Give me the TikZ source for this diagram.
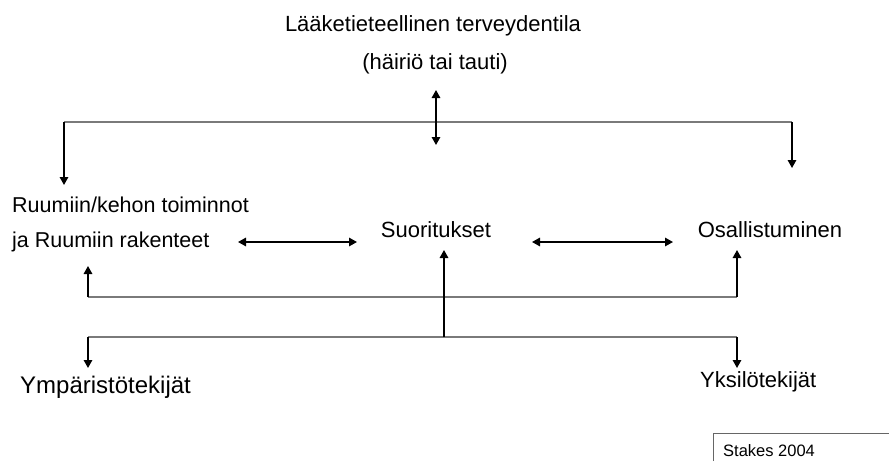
\documentclass[tikz,border=0pt]{standalone}
\usepackage{fontspec}
\setmainfont{Liberation Sans}
\usetikzlibrary{arrows.meta}
\begin{document}
\begin{tikzpicture}[x=1pt,y=-1pt,
  lbl/.style={inner sep=0pt,font=\fontsize{22}{26}\selectfont},
  bus/.style={draw=black!52,line width=1.6pt},
  arr/.style={draw=black,line width=1.5pt,-{Triangle[length=8pt,width=8.5pt]}},
  darr/.style={draw=black,line width=1.5pt,{Triangle[length=8pt,width=8.5pt]}-{Triangle[length=8pt,width=8.5pt]}}]
\useasboundingbox (0,0) rectangle (889,461);
% texts
\node[lbl,anchor=base] (t1) at (433,31) {Lääketieteellinen terveydentila};
\node[lbl,anchor=base] (t2) at (435,69) {(häiriö tai tauti)};
\node[lbl,anchor=base west,font=\fontsize{21.5}{26}\selectfont] (r1) at (12,212) {Ruumiin/kehon toiminnot};
\node[lbl,anchor=base west,font=\fontsize{21.5}{26}\selectfont] (r2) at (12,247) {ja Ruumiin rakenteet};
\node[lbl,anchor=base] (s) at (436,237) {Suoritukset};
\node[lbl,anchor=base] (o) at (770,237) {Osallistuminen};
\node[lbl,anchor=base west,font=\fontsize{24}{28}\selectfont] (y1) at (20,393) {Ympäristötekijät};
\node[lbl,anchor=base west] (y2) at (700,387) {Yksilötekijät};
\node[inner sep=0pt,anchor=base west,font=\fontsize{16.5}{20}\selectfont] (st) at (723,456) {Stakes 2004};
% coordinates
\coordinate (tbL) at (64,122);
\coordinate (tbR) at (792,122);
\coordinate (tbLe) at (64,185);
\coordinate (tbRe) at (792,168);
\coordinate (va) at (436,90);
\coordinate (vb) at (436,145);
\coordinate (h1a) at (238,242);
\coordinate (h1b) at (357,242);
\coordinate (h2a) at (532,242);
\coordinate (h2b) at (673,242);
\coordinate (mbL) at (88,297);
\coordinate (mbR) at (737,297);
\coordinate (mbLe) at (88,266);
\coordinate (mbRe) at (737,250);
\coordinate (cv) at (444,337);
\coordinate (cve) at (444,250);
\coordinate (bbL) at (88,337);
\coordinate (bbR) at (737,337);
\coordinate (bbLe) at (88,368);
\coordinate (bbRe) at (737,368);
\coordinate (bxA) at (713,461);
\coordinate (bxB) at (713,433);
\coordinate (bxC) at (889,433);
% connectors
\draw[bus] (tbL) -- (tbR);
\draw[arr] (tbL) -- (tbLe);
\draw[arr] (tbR) -- (tbRe);
\draw[darr] (va) -- (vb);
\draw[darr] (h1a) -- (h1b);
\draw[darr] (h2a) -- (h2b);
\draw[bus] (mbL) -- (mbR);
\draw[bus] (bbL) -- (bbR);
\draw[arr] (mbL) -- (mbLe);
\draw[arr] (mbR) -- (mbRe);
\draw[arr] (cv) -- (cve);
\draw[arr] (bbL) -- (bbLe);
\draw[arr] (bbR) -- (bbRe);
\draw[draw=black!60,line width=1pt] (bxA) -- (bxB) -- (bxC);
\end{tikzpicture}
\end{document}
